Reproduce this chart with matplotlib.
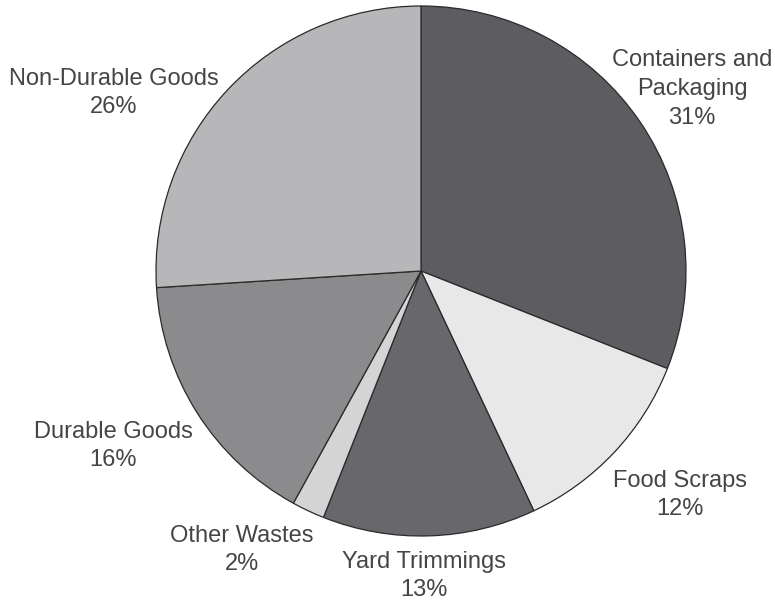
import matplotlib.pyplot as plt

categories = ["Containers and\nPackaging", "Food Scraps", "Yard Trimmings",
              "Other Wastes", "Durable Goods", "Non-Durable Goods"]
shares = [31, 12, 13, 2, 16, 26]
colors = ["#5d5d61", "#e8e8e8", "#68686c", "#d4d4d4", "#8b8b8d", "#b7b7b9"]

# label anchor points (pixel space, y measured from top)
label_pos = [(692, 89), (680, 495), (424, 576), (242, 550), (113, 446), (114, 93)]

W, H = 775, 606
fig = plt.figure(figsize=(W / 100, H / 100), dpi=100)
ax = fig.add_axes([0, 0, 1, 1])

ax.pie(shares, colors=colors, startangle=90, counterclock=False,
       center=(421, H - 271), radius=265, frame=True,
       wedgeprops=dict(edgecolor="#2a2a2a", linewidth=0.9))
ax.set_xlim(0, W)
ax.set_ylim(0, H)
ax.set_aspect("equal")
ax.axis("off")

for name, val, (x, y) in zip(categories, shares, label_pos):
    ax.text(x, H - y, f"{name}\n{val}%", ha="center", va="center",
            fontsize=17, color="#454545", family=["Liberation Sans", "DejaVu Sans"],
            linespacing=1.4)

fig.savefig("out.png", dpi=100, facecolor="white")
